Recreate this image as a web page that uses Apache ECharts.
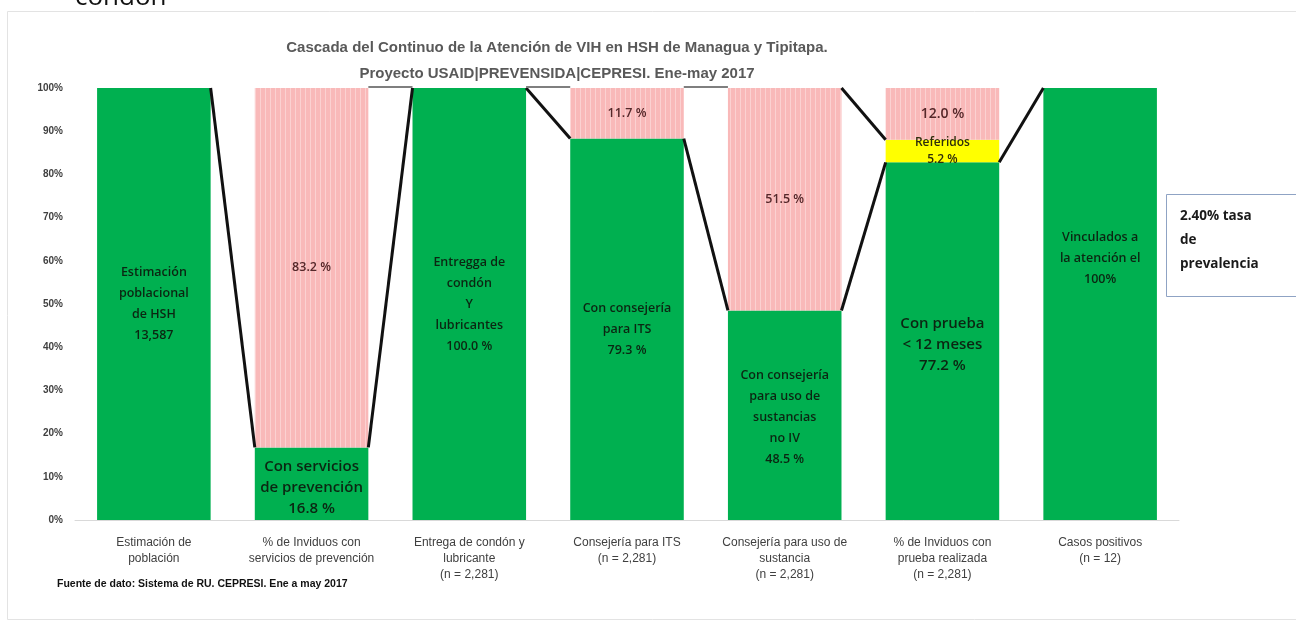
<!DOCTYPE html>
<html>
<head>
<meta charset="utf-8">
<script src="https://cdn.jsdelivr.net/npm/echarts@6/dist/echarts.min.js"></script>
<style>
  html, body { margin: 0; padding: 0; background: #fff; }
  #chart { width: 1296px; height: 626px; }
</style>
</head>
<body>
<div id="chart"></div>
<script>
// categories on the x axis
const categorias = [
  'Estimación de\npoblación',
  '% de Inviduos con\nservicios de prevención',
  'Entrega de condón y\nlubricante\n(n = 2,281)',
  'Consejería para ITS\n(n = 2,281)',
  'Consejería para uso de\nsustancia\n(n = 2,281)',
  '% de Inviduos con\nprueba realizada\n(n = 2,281)',
  'Casos positivos\n(n = 12)'
]

// stacked values (percent of column)
const verde = [100, 16.8, 100, 88.3, 48.5, 82.8, 100]
const amarillo = [0, 0, 0, 0, 0, 5.2, 0]
const rosa = [0, 83.2, 0, 11.7, 51.5, 12.0, 0]

// texts shown inside the bars
const textoVerde = [
  'Estimación\npoblacional\nde HSH\n13,587',
  'Con servicios\nde prevención\n16.8 %',
  'Entregga de\ncondón\nY\nlubricantes\n100.0 %',
  'Con consejería\npara ITS\n79.3 %',
  'Con consejería\npara uso de\nsustancias\nno IV\n48.5 %',
  'Con prueba\n< 12 meses\n77.2 %',
  'Vinculados a\nla atención el\n100%'
]
const textoAmarillo = ['', '', '', '', '', 'Referidos\n5.2 %', '']
const textoRosa = ['', '83.2 %', '', '11.7 %', '51.5 %', '12.0 %', '']

// which gaps get the grey line at the column tops, and where the "referidos" line starts
const tramosGrises = [1, 2, 3]
const tramoReferidos = 4

const anchoBarra = 0.72
const fuenteEje = '"Liberation Sans", Arial, sans-serif'
const fuenteBarra = '"Open Sans", "Noto Sans", sans-serif'

const total = verde.map((v, i) => v + amarillo[i] + rosa[i])

// connector lines between neighbouring columns, built from the data
const conectores = []
for (let i = 0; i < verde.length - 1; i++) {
    conectores.push([i, verde[i], i + 1, verde[i + 1], 0])
}
tramosGrises.forEach(i => conectores.push([i, total[i], i + 1, total[i + 1], 1]))
conectores.push([tramoReferidos, total[tramoReferidos], tramoReferidos + 1,
    verde[tramoReferidos + 1] + amarillo[tramoReferidos + 1], 0])

// bigger text for a couple of labels, like the original
const tamVerde = [12.5, 15, 12.5, 12.5, 12.5, 15, 12.5]
const desplVerde = [[0, 0], [0, 4], [0, 0], [0, 0], [0, 2], [0, 4], [0, -46]]

function echartInit(node) {
    const myChart = echarts.init(node)
    myChart.setOption({
        animation: false,
        textStyle: { fontFamily: fuenteBarra },
        title: {
            text: 'Cascada del Continuo de la Atención de VIH en HSH de Managua y Tipitapa.\nProyecto USAID|PREVENSIDA|CEPRESI. Ene-may 2017',
            left: 552,
            top: 30,
            textAlign: 'center',
            textStyle: {
                fontFamily: fuenteEje,
                fontSize: 15,
                fontWeight: 'bold',
                color: '#595959',
                lineHeight: 26
            }
        },
        grid: { left: 75, right: 117, top: 88, bottom: 106 },
        xAxis: {
            type: 'category',
            data: categorias,
            axisTick: { show: false },
            axisLine: { lineStyle: { color: '#d9d9d9', width: 1 } },
            axisLabel: {
                interval: 0,
                margin: 15,
                fontFamily: fuenteEje,
                fontSize: 12,
                lineHeight: 16,
                color: '#404040'
            }
        },
        yAxis: {
            type: 'value',
            min: 0,
            max: 100,
            interval: 10,
            splitLine: { show: false },
            axisLine: { show: false },
            axisTick: { show: false },
            axisLabel: {
                formatter: '{value}%',
                margin: 12,
                fontFamily: fuenteEje,
                fontSize: 10,
                fontWeight: 'bold',
                color: '#404040'
            }
        },
        series: [
            {
                name: 'Verde',
                type: 'bar',
                stack: 'c',
                barWidth: (anchoBarra * 100) + '%',
                itemStyle: { color: '#00b050' },
                data: verde.map((v, i) => ({
                    value: v,
                    label: { fontSize: tamVerde[i], offset: desplVerde[i] }
                })),
                label: {
                    show: true,
                    position: 'inside',
                    color: '#0b2612',
                    fontWeight: 600,
                    fontFamily: fuenteBarra,
                    lineHeight: 21,
                    formatter: p => textoVerde[p.dataIndex]
                }
            },
            {
                name: 'Amarillo',
                type: 'bar',
                stack: 'c',
                itemStyle: { color: '#ffff00' },
                data: amarillo,
                label: {
                    show: true,
                    position: 'inside',
                    color: '#2e2e0c',
                    fontWeight: 600,
                    fontFamily: fuenteBarra,
                    fontSize: 12,
                    lineHeight: 17,
                    formatter: p => textoAmarillo[p.dataIndex]
                }
            },
            {
                name: 'Rosa',
                type: 'bar',
                stack: 'c',
                itemStyle: {
                    color: '#f9b9b9',
                    decal: {
                        symbol: 'rect',
                        symbolSize: 1,
                        color: 'rgba(255,255,255,0.35)',
                        dashArrayX: [1, 4],
                        dashArrayY: [10, 0]
                    }
                },
                data: rosa.map((v, i) => ({
                    value: v,
                    label: { fontSize: i === 5 ? 14 : 12.5 }
                })),
                label: {
                    show: true,
                    position: 'inside',
                    color: '#55282a',
                    fontWeight: 600,
                    fontFamily: fuenteBarra,
                    formatter: p => textoRosa[p.dataIndex]
                }
            },
            {
                name: 'Conectores',
                type: 'custom',
                clip: false,
                z: 5,
                encode: { x: [0, 2], y: [1, 3] },
                data: conectores,
                renderItem: function (params, api) {
                    const a = api.coord([api.value(0), api.value(1)])
                    const b = api.coord([api.value(2), api.value(3)])
                    const mitad = api.size([1, 0])[0] * anchoBarra / 2
                    const gris = api.value(4) === 1
                    return {
                        type: 'line',
                        shape: { x1: a[0] + mitad, y1: a[1] - (gris ? 1 : 0), x2: b[0] - mitad, y2: b[1] - (gris ? 1 : 0) },
                        style: { stroke: gris ? '#7f7f7f' : '#111111', lineWidth: gris ? 2 : 3 }
                    }
                }
            }
        ],
        graphic: [
            {
                type: 'rect',
                silent: true,
                z: -1,
                shape: { x: 7.5, y: 11.5, width: 1300, height: 608 },
                style: { fill: 'none', stroke: '#e3e3e3', lineWidth: 1 }
            },
            {
                type: 'text',
                left: 75,
                top: -15,
                style: {
                    text: 'condón',
                    font: '26px "Open Sans", sans-serif',
                    fill: '#111'
                }
            },
            {
                type: 'rect',
                shape: { x: 1166.5, y: 194.5, width: 140, height: 102 },
                style: { fill: '#fff', stroke: '#8fa3c4', lineWidth: 1 }
            },
            {
                type: 'text',
                left: 1180,
                top: 204,
                style: {
                    text: '2.40% tasa\nde\nprevalencia',
                    font: 'bold 13.5px ' + fuenteBarra,
                    lineHeight: 24,
                    fill: '#1a1a1a'
                }
            },
            {
                type: 'text',
                left: 57,
                top: 579,
                style: {
                    text: 'Fuente de dato: Sistema de RU. CEPRESI. Ene a may 2017',
                    font: 'bold 10.5px ' + fuenteEje,
                    fill: '#111'
                }
            }
        ]
    })
}

echartInit(document.getElementById('chart'))
</script>
</body>
</html>
